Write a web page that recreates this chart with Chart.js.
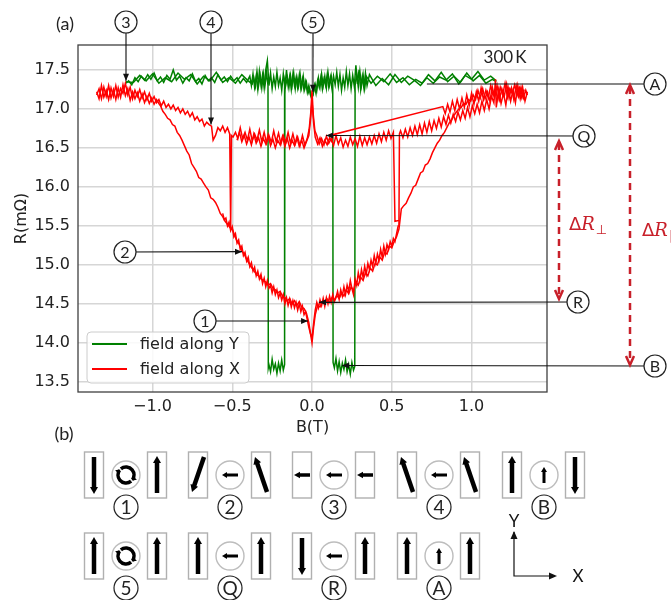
<!DOCTYPE html>
<html>
<head>
<meta charset="utf-8">
<script src="https://cdn.jsdelivr.net/npm/chart.js@4.4.1/dist/chart.umd.min.js"></script>
<style>
  html, body { margin: 0; padding: 0; background: #fff; }
</style>
</head>
<body>
<canvas id="fig" width="671" height="600"></canvas>
<script>
// --- data: [B (T), R (mOhm)] ---
var greenUp = [[-1.166,17.33],[-1.15,17.36],[-1.13,17.31],[-1.11,17.4],[-1.09,17.35],[-1.07,17.42],[-1.05,17.37],[-1.03,17.44],[-1.01,17.38],[-0.99,17.46],[-0.97,17.36],[-0.95,17.41],[-0.93,17.34],[-0.91,17.43],[-0.89,17.38],[-0.87,17.5],[-0.85,17.37],[-0.83,17.42],[-0.81,17.33],[-0.79,17.4],[-0.77,17.36],[-0.75,17.45],[-0.73,17.35],[-0.71,17.39],[-0.69,17.32],[-0.67,17.43],[-0.65,17.36],[-0.63,17.4],[-0.61,17.34],[-0.59,17.44],[-0.57,17.37],[-0.55,17.41],[-0.53,17.35],[-0.51,17.42],[-0.49,17.36],[-0.47,17.4],[-0.45,17.33],[-0.43,17.39],[-0.41,17.34],[-0.39,17.42],
  [-0.38,17.3],[-0.37,17.45],[-0.36,17.28],[-0.35,17.42],[-0.34,17.25],[-0.33,17.48],[-0.32,17.31],[-0.31,17.44],[-0.3,17.27],[-0.29,17.5],[-0.28,17.62],[-0.27,17.3],[-0.26,17.46],[-0.25,17.26],[-0.24,17.41],[-0.23,17.29],[-0.22,17.47],[-0.21,17.3],[-0.2,17.4],[-0.19,17.24],[-0.18,17.45],[-0.17,17.28],[-0.16,17.5],[-0.15,17.3],[-0.14,17.42],[-0.13,17.25],[-0.12,17.44],[-0.11,17.3],[-0.1,17.4],[-0.09,17.27],[-0.08,17.43],[-0.07,17.26],[-0.06,17.38],[-0.05,17.24],[-0.04,17.35],[-0.03,17.22],[-0.02,17.3],[-0.01,17.18],[0.0,17.14],[0.01,17.22],[0.02,17.32],[0.03,17.24],[0.04,17.4],[0.05,17.28],[0.06,17.45],[0.07,17.3],[0.08,17.42],[0.09,17.27],[0.1,17.47],[0.11,17.31],[0.12,17.43],[0.13,17.3],
  [0.132,13.75],[0.14,13.68],[0.15,13.8],[0.16,13.64],[0.17,13.76],[0.18,13.62],[0.19,13.74],[0.2,13.66],[0.21,13.78],[0.22,13.63],[0.23,13.72],[0.24,13.6],[0.25,13.75],[0.26,13.65],[0.268,13.7],
  [0.27,17.3],[0.28,17.45],[0.29,17.28],[0.3,17.48],[0.31,17.3],[0.32,17.44],[0.33,17.26],[0.34,17.42],[0.37,17.33],[0.41,17.42],[0.45,17.35],[0.49,17.45],[0.53,17.34],[0.57,17.4],[0.61,17.31],[0.65,17.38],[0.69,17.33],[0.73,17.44],[0.77,17.36],[0.81,17.47],[0.85,17.35],[0.89,17.42],[0.93,17.34],[0.97,17.46],[1.01,17.36],[1.05,17.43],[1.09,17.33],[1.13,17.38],[1.155,17.35]];

var greenDown = [[1.155,17.36],[1.12,17.42],[1.08,17.37],[1.04,17.48],[1.0,17.38],[0.96,17.43],[0.92,17.32],[0.88,17.45],[0.84,17.37],[0.8,17.41],[0.76,17.33],[0.72,17.4],[0.68,17.3],[0.64,17.37],[0.6,17.42],[0.56,17.34],[0.52,17.44],[0.48,17.31],[0.44,17.39],[0.4,17.3],[0.36,17.44],
  [0.345,17.3],[0.335,17.46],[0.325,17.27],[0.315,17.41],[0.305,17.25],[0.295,17.5],[0.285,17.32],[0.275,17.56],[0.265,17.29],[0.255,17.43],[0.245,17.26],[0.235,17.45],[0.225,17.3],[0.215,17.48],[0.205,17.28],[0.195,17.4],[0.185,17.24],[0.175,17.44],[0.165,17.29],[0.155,17.47],[0.145,17.31],[0.135,17.42],[0.125,17.26],[0.115,17.4],[0.105,17.28],[0.095,17.44],[0.085,17.3],[0.075,17.38],[0.065,17.25],[0.055,17.4],[0.045,17.28],[0.035,17.36],[0.025,17.2],[0.015,17.3],[0.005,17.17],[-0.005,17.15],[-0.015,17.26],[-0.025,17.2],[-0.035,17.34],[-0.045,17.26],[-0.055,17.42],[-0.065,17.28],[-0.075,17.45],[-0.085,17.29],[-0.095,17.41],[-0.105,17.26],[-0.115,17.46],[-0.125,17.3],[-0.135,17.43],[-0.145,17.27],[-0.155,17.4],[-0.165,17.3],[-0.17,17.35],
  [-0.172,13.72],[-0.18,13.65],[-0.19,13.78],[-0.2,13.64],[-0.21,13.74],[-0.22,13.61],[-0.23,13.73],[-0.24,13.66],[-0.25,13.79],[-0.26,13.63],[-0.27,13.72],[-0.274,13.68],
  [-0.276,17.3],[-0.285,17.47],[-0.295,17.3],[-0.305,17.45],[-0.315,17.27],[-0.325,17.43],[-0.335,17.3],[-0.345,17.48],[-0.355,17.29],[-0.365,17.4],[-0.375,17.32],[-0.4,17.36],[-0.44,17.44],[-0.48,17.33],[-0.52,17.4],[-0.56,17.34],[-0.6,17.47],[-0.64,17.36],[-0.68,17.42],[-0.72,17.32],[-0.76,17.44],[-0.8,17.38],[-0.84,17.46],[-0.88,17.35],[-0.92,17.4],[-0.96,17.33],[-1.0,17.45],[-1.04,17.36],[-1.08,17.43],[-1.12,17.34],[-1.166,17.35]];

var redLower = [[-1.35,17.18],[-1.335,17.26],[-1.32,17.13],[-1.305,17.28],[-1.29,17.16],[-1.275,17.3],[-1.26,17.14],[-1.245,17.25],[-1.23,17.12],[-1.215,17.27],[-1.2,17.15],[-1.185,17.31],[-1.17,17.17],[-1.155,17.26],[-1.14,17.11],[-1.125,17.22],[-1.11,17.13],[-1.095,17.21],[-1.08,17.1],[-1.065,17.19],[-1.05,17.08],[-1.035,17.16],[-1.02,17.07],[-1.005,17.14],[-0.99,17.06],[-0.975,17.12],[-0.96,17.07],
  [-0.95,17.04],[-0.935,16.97],[-0.92,16.93],[-0.905,16.88],[-0.89,16.86],[-0.875,16.8],[-0.86,16.78],[-0.845,16.7],[-0.83,16.66],[-0.815,16.6],[-0.8,16.53],[-0.785,16.46],[-0.77,16.41],[-0.755,16.3],[-0.74,16.25],[-0.725,16.2],[-0.71,16.12],[-0.695,16.1],[-0.68,16.05],[-0.665,16.0],[-0.65,15.96],[-0.635,15.86],[-0.62,15.84],[-0.605,15.8],[-0.59,15.74],[-0.575,15.66],[-0.56,15.62],[-0.545,15.56],[-0.53,15.52],[-0.515,15.48],[-0.5,15.46],[-0.485,15.38],[-0.47,15.3],[-0.455,15.26],[-0.44,15.18],[-0.425,15.14],[-0.41,15.07],[-0.395,15.02],[-0.38,14.97],[-0.365,14.93],[-0.35,14.88],[-0.335,14.86],[-0.32,14.82],[-0.305,14.8],[-0.29,14.78],[-0.275,14.74],[-0.26,14.76],[-0.245,14.7],[-0.23,14.68],[-0.215,14.64],[-0.2,14.66],[-0.185,14.6],[-0.17,14.58],[-0.155,14.54],[-0.14,14.57],[-0.125,14.5],[-0.11,14.54],[-0.095,14.48],[-0.08,14.53],[-0.065,14.46],[-0.05,14.44],[-0.035,14.38],[-0.02,14.26],[-0.008,14.1],[0.0,14.0],[0.01,14.2],[0.02,14.36],[0.035,14.48],[0.05,14.46],[0.065,14.53],[0.08,14.5],[0.095,14.56],[0.11,14.52],[0.125,14.58],[0.14,14.55],[0.155,14.61],[0.17,14.57],[0.185,14.64],[0.2,14.6],[0.215,14.68],[0.23,14.63],[0.245,14.72],[0.26,14.67],[0.275,14.78],[0.29,14.74],[0.305,14.84],[0.32,14.8],[0.335,14.9],[0.35,14.86],[0.365,14.96],[0.38,14.92],[0.395,15.02],[0.41,15.0],[0.425,15.1],[0.44,15.06],[0.455,15.16],[0.47,15.14],[0.485,15.24],[0.5,15.22],[0.515,15.3],[0.53,15.36],[0.545,15.46],[0.552,15.58],[0.56,15.72],[0.575,15.76],[0.59,15.79],[0.605,15.86],[0.62,15.92],[0.635,16.0],[0.65,16.02],[0.665,16.1],[0.68,16.18],[0.695,16.2],[0.71,16.28],[0.725,16.3],[0.74,16.36],[0.755,16.44],[0.77,16.5],[0.785,16.56],[0.8,16.6],[0.815,16.66],[0.83,16.7],[0.845,16.76],[0.86,16.82],[0.875,16.86],[0.89,16.92],[0.905,16.96],[0.92,17.0],[0.935,17.02],[0.95,17.07],[0.965,17.06],[0.98,17.12],[0.995,17.1],[1.01,17.18],[1.025,17.12],[1.04,17.24],[1.055,17.14],[1.07,17.26],[1.085,17.13],[1.1,17.22],[1.115,17.1],[1.13,17.28],[1.145,17.15],[1.16,17.3],[1.175,17.12],[1.19,17.26],[1.205,17.16],[1.22,17.32],[1.235,17.14],[1.25,17.27],[1.265,17.12],[1.28,17.3],[1.295,17.16],[1.31,17.28],[1.325,17.14],[1.34,17.24],[1.35,17.18]];

var redLowerRepeat = [[-0.56,15.66],[-0.55,15.58],[-0.54,15.6],[-0.53,15.5],[-0.52,15.55],[-0.51,15.44],[-0.5,15.49],[-0.49,15.36],[-0.48,15.4],[-0.47,15.28],[-0.46,15.32],[-0.45,15.2],[-0.44,15.24],[-0.43,15.12],[-0.42,15.16],[-0.41,15.05],[-0.4,15.1],[-0.39,14.98],[-0.38,15.03],[-0.37,14.92],[-0.36,14.97],[-0.35,14.86],[-0.34,14.92],[-0.33,14.82],[-0.32,14.88],[-0.31,14.76],[-0.3,14.83],[-0.29,14.72],[-0.28,14.8],[-0.27,14.7],[-0.26,14.74],[-0.25,14.64],[-0.24,14.72],[-0.23,14.62],[-0.22,14.68],[-0.21,14.58],[-0.2,14.64],[-0.19,14.55],[-0.18,14.62],[-0.17,14.5],[-0.16,14.58],[-0.15,14.48],[-0.14,14.56],[-0.13,14.46],[-0.12,14.54],[-0.11,14.45],[-0.1,14.52],[-0.09,14.42],[-0.08,14.5],[-0.07,14.4],[-0.06,14.47],[-0.05,14.36],[-0.04,14.4],[-0.03,14.3],[-0.02,14.2],[-0.01,14.12],[0.0,14.06],[0.01,14.25],[0.02,14.42],[0.03,14.52],[0.04,14.45],[0.05,14.55],[0.06,14.48],[0.07,14.57],[0.08,14.47],[0.09,14.58],[0.1,14.5],[0.11,14.6],[0.12,14.52],[0.13,14.62],[0.14,14.53],[0.15,14.58],[0.16,14.66],[0.17,14.56],[0.18,14.68],[0.19,14.6],[0.2,14.72],[0.21,14.62],[0.22,14.74],[0.23,14.66],[0.24,14.8],[0.25,14.7],[0.26,14.62],[0.27,14.82],[0.28,14.74],[0.29,14.9],[0.3,14.8],[0.31,14.94],[0.32,14.84],[0.33,14.98],[0.34,14.88],[0.35,15.02],[0.36,14.94],[0.37,15.06],[0.38,14.98],[0.39,15.12],[0.4,15.02],[0.41,15.14],[0.42,15.06],[0.43,15.2],[0.44,15.1],[0.45,15.24],[0.46,15.14],[0.47,15.26],[0.48,15.2],[0.49,15.3],[0.5,15.24],[0.51,15.34],[0.52,15.3],[0.53,15.4],[0.54,15.5],[0.545,15.57]];

var redUpper = [[1.35,17.22],[1.335,17.1],[1.32,17.28],[1.305,17.13],[1.29,17.3],[1.275,17.08],[1.26,17.24],[1.245,17.1],[1.23,17.27],[1.215,17.05],[1.2,17.2],[1.185,17.07],[1.17,17.25],[1.155,17.02],[1.15,17.38],[1.14,17.08],[1.125,17.16],[1.11,17.0],[1.095,17.12],[1.08,16.98],[1.065,17.1],[1.05,16.95],[1.035,17.06],[1.02,16.94],[1.005,17.04],[0.99,16.9],[0.975,17.02],[0.96,16.88],[0.945,16.98],[0.93,16.86],[0.915,16.96],[0.9,16.84],[0.885,16.93],[0.87,16.82],[0.855,16.92],[0.84,16.8],[0.825,16.9],[0.81,16.77],[0.795,16.88],[0.78,16.75],[0.765,16.85],[0.75,16.72],[0.735,16.84],[0.72,16.7],[0.705,16.82],[0.69,16.68],[0.675,16.8],[0.66,16.67],[0.645,16.78],[0.63,16.66],[0.615,16.76],[0.6,16.64],[0.585,16.74],[0.57,16.63],[0.555,16.72],[0.548,16.68],
  [0.545,15.57],[0.52,15.56],[0.51,16.7],[0.495,16.62],[0.48,16.72],[0.465,16.6],[0.45,16.7],[0.435,16.58],[0.42,16.68],[0.405,16.56],[0.39,16.66],[0.375,16.55],[0.36,16.64],[0.345,16.54],[0.33,16.63],[0.315,16.53],[0.3,16.65],[0.285,16.52],[0.27,16.62],[0.255,16.54],[0.24,16.64],[0.225,16.52],[0.21,16.6],[0.195,16.51],[0.18,16.63],[0.165,16.55],[0.15,16.66],[0.135,16.53],[0.12,16.62],[0.105,16.56],[0.09,16.65],[0.075,16.54],[0.06,16.62],[0.045,16.55],[0.03,16.66],[0.018,16.72],[0.008,16.92],[0.0,17.24],[-0.008,16.95],[-0.018,16.74],[-0.03,16.62],[-0.045,16.54],[-0.06,16.66],[-0.075,16.53],[-0.09,16.64],[-0.105,16.55],[-0.12,16.68],[-0.135,16.56],[-0.15,16.7],[-0.165,16.57],[-0.18,16.66],[-0.195,16.55],[-0.21,16.69],[-0.225,16.58],[-0.24,16.72],[-0.255,16.57],[-0.27,16.66],[-0.285,16.56],[-0.3,16.7],[-0.315,16.58],[-0.33,16.73],[-0.345,16.6],[-0.36,16.68],[-0.375,16.59],[-0.39,16.74],[-0.405,16.6],[-0.42,16.7],[-0.435,16.62],[-0.45,16.76],[-0.465,16.62],[-0.48,16.7],[-0.495,16.64],[-0.505,16.66],
  [-0.51,15.48],[-0.516,16.68],[-0.53,16.76],[-0.545,16.7],[-0.56,16.78],[-0.575,16.72],[-0.59,16.76],[-0.605,16.66],[-0.62,16.6],[-0.63,16.78],[-0.645,16.8],[-0.66,16.83],[-0.675,16.78],[-0.69,16.87],[-0.705,16.84],[-0.72,16.9],[-0.735,16.86],[-0.75,16.95],[-0.765,16.9],[-0.78,16.97],[-0.795,16.93],[-0.81,17.0],[-0.825,16.95],[-0.84,17.02],[-0.855,16.98],[-0.87,17.05],[-0.885,17.0],[-0.9,17.06],[-0.915,17.02],[-0.93,17.1],[-0.945,17.04],[-0.96,17.12],[-0.975,17.08],[-0.99,17.16],[-1.005,17.1],[-1.02,17.2],[-1.035,17.12],[-1.05,17.22],[-1.065,17.14],[-1.08,17.25],[-1.095,17.16],[-1.11,17.24],[-1.125,17.13],[-1.14,17.28],[-1.155,17.18],[-1.17,17.33],[-1.185,17.2],[-1.2,17.26],[-1.215,17.15],[-1.23,17.3],[-1.245,17.16],[-1.26,17.27],[-1.275,17.12],[-1.29,17.24],[-1.305,17.15],[-1.32,17.3],[-1.335,17.13],[-1.35,17.22]];

var redReturn = [[-0.47,16.6],[-0.455,16.7],[-0.44,16.58],[-0.425,16.66],[-0.41,16.55],[-0.395,16.64],[-0.38,16.54],[-0.365,16.68],[-0.35,16.56],[-0.335,16.63],[-0.32,16.52],[-0.305,16.62],[-0.29,16.55],[-0.275,16.67],[-0.26,16.53],[-0.245,16.61],[-0.23,16.5],[-0.215,16.6],[-0.2,16.54],[-0.185,16.65],[-0.17,16.52],[-0.155,16.62],[-0.14,16.5],[-0.125,16.6],[-0.11,16.53],[-0.095,16.64],[-0.08,16.52],[-0.065,16.6],[-0.05,16.5],[-0.035,16.58],[-0.02,16.66],[-0.01,16.85],[0.0,17.1],[0.01,16.82],[0.02,16.64],[0.035,16.55],[0.05,16.63],[0.065,16.52],[0.08,16.6],[0.095,16.54],[0.11,16.63],[0.125,16.58],[0.13,16.67],
  [0.82,17.03],[0.835,16.94],[0.85,17.06],[0.865,16.96],[0.88,17.1],[0.895,16.98],[0.91,17.12],[0.925,17.0],[0.94,17.14],[0.955,17.02],[0.97,17.18],[0.985,17.04],[1.0,17.2],[1.015,17.06],[1.03,17.22],[1.045,17.1],[1.06,17.27],[1.075,17.12],[1.09,17.24],[1.105,17.14],[1.12,17.3],[1.135,17.17],[1.15,17.25],[1.165,17.12],[1.18,17.28],[1.195,17.18],[1.21,17.33],[1.225,17.15],[1.24,17.26],[1.255,17.2],[1.27,17.31],[1.285,17.17],[1.3,17.27],[1.315,17.14],[1.33,17.25]];

var xTicks = [-1.0, -0.5, 0.0, 0.5, 1.0];
var yTicks = [13.5, 14.0, 14.5, 15.0, 15.5, 16.0, 16.5, 17.0, 17.5];
var seriesLabels = ["field along Y", "field along X"];
var seriesColors = ["#008000", "#ff0000"];

// annotation pointers: label, circle position (px), tip (B, R)
var pointers = [
	{t: "3", cx: 126, cy: 22, b: -1.166, r: 17.36, head: true},
	{t: "4", cx: 211, cy: 22, b: -0.633, r: 16.80, head: true},
	{t: "5", cx: 313, cy: 22, b: 0.006, r: 17.22, head: true},
	{t: "A", cx: 655, cy: 84, b: 0.72, r: 17.32, head: false},
	{t: "Q", cx: 584, cy: 136, b: 0.088, r: 16.66, head: true},
	{t: "R", cx: 578, cy: 302, b: 0.044, r: 14.52, head: true},
	{t: "B", cx: 655, cy: 366, b: 0.188, r: 13.71, head: true},
	{t: "2", cx: 125, cy: 252, b: -0.439, r: 15.17, head: true},
	{t: "1", cx: 205, cy: 321, b: -0.025, r: 14.28, head: true}
];

// schematic (b): left bar, middle disc, right bar
var schemeRows = [
	{cy: 475, groups: [["down", "vortex", "up", "1"], ["dl", "left", "ul", "2"], ["left", "left", "left", "3"], ["ul", "left", "ul", "4"], ["up", "up", "down", "B"]]},
	{cy: 556, groups: [["up", "vortex", "up", "5"], ["up", "left", "up", "Q"], ["down", "left", "up", "R"], ["up", "up", "up", "A"]]}
];
var schemeX = [126, 230, 334, 439, 544];

function pts(arr) {
	return arr.map(function (p) { return {x: p[0], y: p[1]}; });
}

function fmt(v) {
	return (v < 0 ? "\u2212" : "") + Math.abs(v).toFixed(1);
}

function fillHead(ctx, x, y, ang, len, half) {
	var c = Math.cos(ang), s = Math.sin(ang);
	ctx.beginPath();
	ctx.moveTo(x, y);
	ctx.lineTo(x - len * c + half * s, y - len * s - half * c);
	ctx.lineTo(x - len * c - half * s, y - len * s + half * c);
	ctx.closePath();
	ctx.fill();
}

function circled(ctx, cx, cy, txt, rad, size) {
	ctx.beginPath();
	ctx.arc(cx, cy, rad, 0, Math.PI * 2);
	ctx.fillStyle = "#fff";
	ctx.fill();
	ctx.lineWidth = 1.2;
	ctx.strokeStyle = "#222";
	ctx.stroke();
	ctx.fillStyle = "#222";
	ctx.font = size + "px Lato";
	ctx.textAlign = "center";
	ctx.textBaseline = "middle";
	ctx.fillText(txt, cx, cy + 1);
}

function fatArrow(ctx, x1, y1, x2, y2, lw, hl, hw) {
	var ang = Math.atan2(y2 - y1, x2 - x1);
	ctx.strokeStyle = "#000";
	ctx.fillStyle = "#000";
	ctx.lineWidth = lw;
	ctx.lineCap = "butt";
	ctx.beginPath();
	ctx.moveTo(x1, y1);
	ctx.lineTo(x2 - hl * 0.8 * Math.cos(ang), y2 - hl * 0.8 * Math.sin(ang));
	ctx.stroke();
	fillHead(ctx, x2, y2, ang, hl, hw);
}

function barArrow(ctx, dir, rx, cy) {
	if (dir === "up") fatArrow(ctx, rx, cy + 18, rx, cy - 19, 4.5, 7, 4);
	if (dir === "down") fatArrow(ctx, rx, cy - 18, rx, cy + 19, 4.5, 7, 4);
	if (dir === "left") fatArrow(ctx, rx + 8, cy, rx - 8, cy, 3.5, 6, 3.2);
	if (dir === "dl") fatArrow(ctx, rx + 6, cy - 18, rx - 6, cy + 17, 4.5, 7, 4);
	if (dir === "ul") fatArrow(ctx, rx + 6, cy + 17, rx - 6, cy - 18, 4.5, 7, 4);
}

function discArrow(ctx, dir, cx, cy) {
	if (dir === "left") fatArrow(ctx, cx + 8, cy, cx - 8, cy, 3, 5, 3);
	if (dir === "up") fatArrow(ctx, cx, cy + 8, cx, cy - 8, 3, 5, 3);
	if (dir === "vortex") {
		ctx.strokeStyle = "#000";
		ctx.fillStyle = "#000";
		ctx.lineWidth = 3.5;
		ctx.beginPath();
		ctx.arc(cx, cy, 8, -Math.PI * 0.72, Math.PI * 0.2);
		ctx.stroke();
		ctx.beginPath();
		ctx.arc(cx, cy, 8, Math.PI * 0.28, Math.PI * 1.2);
		ctx.stroke();
		fillHead(ctx, cx + 8 * Math.cos(Math.PI * 0.24), cy + 8 * Math.sin(Math.PI * 0.24), Math.PI * 0.74, 4, 3.2);
		fillHead(ctx, cx + 8 * Math.cos(-Math.PI * 0.76), cy + 8 * Math.sin(-Math.PI * 0.76), -Math.PI * 0.26, 4, 3.2);
	}
}

function dashedDouble(ctx, x, y1, y2) {
	ctx.save();
	ctx.strokeStyle = "#c8202a";
	ctx.lineWidth = 2.5;
	ctx.setLineDash([7, 5]);
	ctx.beginPath();
	ctx.moveTo(x, y1 + 2);
	ctx.lineTo(x, y2 - 2);
	ctx.stroke();
	ctx.setLineDash([]);
	ctx.beginPath();
	ctx.moveTo(x - 4, y1 + 9); ctx.lineTo(x, y1); ctx.lineTo(x + 4, y1 + 9);
	ctx.moveTo(x - 4, y2 - 9); ctx.lineTo(x, y2); ctx.lineTo(x + 4, y2 - 9);
	ctx.stroke();
	ctx.restore();
}

function deltaLabel(ctx, x, y, sub) {
	ctx.fillStyle = "#c8202a";
	ctx.textAlign = "left";
	ctx.textBaseline = "alphabetic";
	ctx.font = "18px 'DejaVu Sans'";
	ctx.fillText("\u0394", x, y);
	var w = ctx.measureText("\u0394").width;
	ctx.font = "italic 18px 'DejaVu Serif'";
	ctx.fillText("R", x + w, y);
	var w2 = ctx.measureText("R").width;
	ctx.font = "13px 'DejaVu Sans'";
	ctx.fillText(sub, x + w + w2 + 1, y + 4);
}

var figurePlugin = {
	id: "figurePlugin",
	afterDraw: function (chart) {
		var ctx = chart.ctx, a = chart.chartArea, xs = chart.scales.x, ys = chart.scales.y;
		ctx.save();

		// axes frame
		ctx.strokeStyle = "#404040";
		ctx.lineWidth = 1.3;
		ctx.strokeRect(a.left, a.top, a.right - a.left, a.bottom - a.top);

		// legend
		ctx.beginPath();
		ctx.roundRect(87, 332, 162, 51, 4);
		ctx.fillStyle = "rgba(255,255,255,0.85)";
		ctx.fill();
		ctx.strokeStyle = "#cccccc";
		ctx.lineWidth = 1;
		ctx.stroke();
		ctx.font = "16px 'DejaVu Sans'";
		ctx.textAlign = "left";
		ctx.textBaseline = "middle";
		for (var i = 0; i < seriesLabels.length; i++) {
			var ly = 344 + i * 25;
			ctx.strokeStyle = seriesColors[i];
			ctx.lineWidth = 2;
			ctx.beginPath();
			ctx.moveTo(92, ly);
			ctx.lineTo(127, ly);
			ctx.stroke();
			ctx.fillStyle = "#222";
			ctx.fillText(seriesLabels[i], 140, ly + 1);
		}

		// temperature and panel tags
		ctx.fillStyle = "#222";
		ctx.font = "17px Lato";
		ctx.textAlign = "center";
		ctx.fillText("300\u2009K", 505, 58);
		ctx.font = "18px Lato";
		ctx.fillText("(a)", 65, 24);
		ctx.fillText("(b)", 64, 434);

		// pointers
		pointers.forEach(function (p) {
			var tx = xs.getPixelForValue(p.b), ty = ys.getPixelForValue(p.r);
			ctx.strokeStyle = "#111";
			ctx.fillStyle = "#111";
			ctx.lineWidth = 1.1;
			ctx.beginPath();
			ctx.moveTo(p.cx, p.cy);
			ctx.lineTo(tx, ty);
			ctx.stroke();
			if (p.head) fillHead(ctx, tx, ty, Math.atan2(ty - p.cy, tx - p.cx), 7, 3);
			circled(ctx, p.cx, p.cy, p.t, 11, 16);
		});

		// delta R arrows
		dashedDouble(ctx, 559, 141, 299);
		dashedDouble(ctx, 630, 85, 365);
		deltaLabel(ctx, 569, 230, "\u22a5");
		deltaLabel(ctx, 642, 236, "\u2225");

		// schematic (b)
		schemeRows.forEach(function (row) {
			row.groups.forEach(function (g, k) {
				var cx = schemeX[k], cy = row.cy;
				ctx.strokeStyle = "#b0b0b0";
				ctx.lineWidth = 1.4;
				ctx.strokeRect(cx - 41.5, cy - 23, 19, 46);
				ctx.strokeRect(cx + 21.5, cy - 23, 19, 46);
				ctx.strokeStyle = "#bdbdbd";
				ctx.beginPath();
				ctx.arc(cx, cy, 14, 0, Math.PI * 2);
				ctx.stroke();
				barArrow(ctx, g[0], cx - 32, cy);
				discArrow(ctx, g[1], cx, cy);
				barArrow(ctx, g[2], cx + 31, cy);
				circled(ctx, cx, cy + 32, g[3], 12, 19);
			});
		});

		// coordinate axes icon
		ctx.strokeStyle = "#111";
		ctx.fillStyle = "#111";
		ctx.lineWidth = 1.2;
		ctx.beginPath();
		ctx.moveTo(514, 532);
		ctx.lineTo(514, 576);
		ctx.lineTo(555, 576);
		ctx.stroke();
		fillHead(ctx, 514, 531, -Math.PI / 2, 8, 3.5);
		fillHead(ctx, 557, 576, 0, 8, 3.5);
		ctx.font = "17px Lato";
		ctx.textAlign = "center";
		ctx.textBaseline = "middle";
		ctx.fillText("Y", 514, 522);
		ctx.fillText("X", 578, 577);

		ctx.restore();
	}
};

var line = {showLine: true, pointRadius: 0, borderWidth: 1.5, tension: 0, fill: false};

new Chart(document.getElementById("fig").getContext("2d"), {
	type: "scatter",
	data: {
		datasets: [
			Object.assign({label: seriesLabels[1], data: pts(redUpper), borderColor: seriesColors[1]}, line),
			Object.assign({label: seriesLabels[1], data: pts(redReturn), borderColor: seriesColors[1]}, line),
			Object.assign({label: seriesLabels[1], data: pts(redLower), borderColor: seriesColors[1]}, line),
			Object.assign({label: seriesLabels[1], data: pts(redLowerRepeat), borderColor: seriesColors[1]}, line),
			Object.assign({label: seriesLabels[0], data: pts(greenUp), borderColor: seriesColors[0]}, line),
			Object.assign({label: seriesLabels[0], data: pts(greenDown), borderColor: seriesColors[0]}, line)
		]
	},
	options: {
		responsive: false,
		animation: false,
		layout: {padding: {left: 0, top: 45, right: 124, bottom: 163}},
		scales: {
			x: {
				type: "linear",
				min: -1.467,
				max: 1.473,
				afterBuildTicks: function (s) { s.ticks = xTicks.map(function (v) { return {value: v}; }); },
				afterFit: function (s) { s.height = 45; },
				ticks: {callback: fmt, padding: 5, color: "#222", font: {family: "DejaVu Sans", size: 16}, maxRotation: 0},
				grid: {color: "#d6d6d6", lineWidth: 1.5, drawTicks: false},
				border: {display: false},
				title: {display: true, text: "B(T)", color: "#222", font: {family: "DejaVu Sans", size: 16}, padding: {top: 0, bottom: 0}}
			},
			y: {
				type: "linear",
				min: 13.37,
				max: 17.82,
				afterBuildTicks: function (s) { s.ticks = yTicks.map(function (v) { return {value: v}; }); },
				afterFit: function (s) { s.width = 78; },
				ticks: {callback: fmt, padding: 8, color: "#222", font: {family: "DejaVu Sans", size: 16}},
				grid: {color: "#d6d6d6", lineWidth: 1.5, drawTicks: false},
				border: {display: false},
				title: {display: true, text: "R(m\u03a9)", color: "#222", font: {family: "DejaVu Sans", size: 16}, padding: {top: 12, bottom: 0}}
			}
		},
		plugins: {legend: {display: false}, tooltip: {enabled: false}}
	},
	plugins: [figurePlugin]
});
</script>
</body>
</html>
